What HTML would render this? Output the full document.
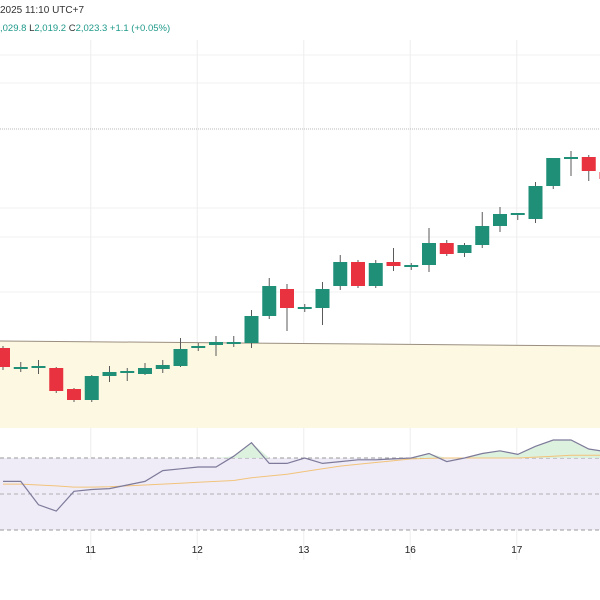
<!DOCTYPE html>
<html><head><meta charset="utf-8"><style>
html,body{margin:0;padding:0;background:#fff;width:600px;height:600px;overflow:hidden;font-family:"Liberation Sans",sans-serif}
svg{display:block}
</style></head><body>
<svg id="chart" width="600" height="600" viewBox="0 0 600 600" xmlns="http://www.w3.org/2000/svg">
<g id="grid"></g>
<path id="zone" d="M0 341 L600 346 L600 428 L0 428 Z" fill="#fdf8e1"/>
<line x1="0" y1="341" x2="600" y2="346" stroke="#9a8f80" stroke-width="1"/>
<line x1="0" y1="129" x2="600" y2="129" stroke="#b8b8b8" stroke-width="1" stroke-dasharray="1,1"/>
<rect x="0" y="458" width="600" height="72" fill="#efecf8"/>
<line x1="0" y1="458" x2="600" y2="458" stroke="#9a9a9a" stroke-dasharray="4,3"/>
<line x1="0" y1="494" x2="600" y2="494" stroke="#b0b0b0" stroke-dasharray="4,3"/>
<line x1="0" y1="530" x2="600" y2="530" stroke="#9a9a9a" stroke-dasharray="4,3"/>
<g id="candles"></g>
<g id="rsi"></g>
<g id="xaxis"></g>
<text x="0" y="13" font-size="10" fill="#333">2025 11:10 UTC+7</text>
<text x="0" y="31" font-size="9.5" fill="#1f9a8a">,029.8 <tspan fill="#333">L</tspan>2,019.2 <tspan fill="#333">C</tspan>2,023.3 +1.1 (+0.05%)</text>
</svg>
<script>
// price values (units mapped to y by priceY)
const opens  = [2652,2632,2633,2632,2611,2600,2624,2628,2626,2631,2634,2652,2655,2657,2657,2684,2711,2692,2692,2714,2738,2714,2738,2734,2735,2757,2747,2755,2774,2786,2781,2814,2842,2843,2828];
const closes = [2633,2633,2633,2609,2600,2624,2628,2628,2632,2635,2651,2654,2658,2657,2684,2714,2692,2692,2711,2738,2714,2737,2734,2734,2757,2746,2755,2774,2786,2786,2814,2842,2842,2829,2821];
const highs  = [2654,2638,2640,2633,2612,2625,2634,2632,2637,2640,2662,2657,2664,2664,2690,2722,2716,2696,2718,2745,2740,2740,2752,2737,2772,2760,2757,2788,2793,2787,2818,2842,2849,2845,2830];
const lows   = [2630,2628,2626,2607,2598,2598,2618,2619,2625,2627,2633,2649,2644,2653,2652,2681,2669,2688,2675,2710,2712,2712,2729,2730,2728,2744,2743,2752,2768,2780,2777,2811,2824,2819,2818];
const rsiVals = [57,57,44,40.5,51.5,52.5,53,55,57,63,64,65,65,71,78.5,67,67,70,67,68,69,69,69.5,70,72.5,68,70,72.5,74,72,76.5,80,80,75,73.5];
const rsiMA   = [55.5,55.5,55,54.5,53.8,53.8,54,54.5,55,55.5,56,56.5,57,57.5,59,60,61,62.5,64,65.5,66.5,67.5,68.5,69.5,69.8,70,70,70,70,70,70.5,71,71.5,71.5,71.5];
const tickLabels = ["11","12","13","16","17"];
const tickIndex  = [5,11,17,23,29];

const x0 = 0.5, step = 17.75;
const xAt = i => x0 + 2.5 + i*step;
const priceY = p => 3000 - p;
const rsiY = v => 458 + (70 - v)*1.8;
const NS = "http://www.w3.org/2000/svg";
function mk(tag, attrs, parent){const e=document.createElementNS(NS,tag);for(const k in attrs)e.setAttribute(k,attrs[k]);parent.appendChild(e);return e;}

const grid = document.getElementById('grid');
[55,83,208,237,292].forEach(y=>{
  const l = mk('line',{x1:0,x2:600,y1:y,y2:y,stroke:'#f1f1f1'},grid);
  
  
});
tickIndex.forEach(i=>{
  const l = mk('line',{x1:xAt(i)-1,x2:xAt(i)-1,y1:40,y2:560,stroke:'#eeeeee'},grid);
  
  
});

const cg = document.getElementById('candles');
opens.forEach((o,i)=>{
  const c = closes[i], up = c >= o, col = up ? '#1f8f78' : '#e8323f';
  const g = mk('g',{},cg);
  
  
  const x = xAt(i);
  mk('line',{x1:x,x2:x,y1:priceY(highs[i]),y2:priceY(lows[i]),stroke:'#5a5a5a','stroke-width':1},g);
  const top = priceY(Math.max(o,c)), h = Math.max(2, Math.abs(o-c));
  mk('rect',{x:x-7,y:top-(h===2&&o===c?1:0),width:14,height:h,fill:col},g);
});

const rg = document.getElementById('rsi');
let fillD = '';
rsiVals.forEach((v,i)=>{ if(i===0) return; });
// green area above 70
let area = 'M'+xAt(0)+' 458';
rsiVals.forEach((v,i)=>{ area += ' L'+xAt(i)+' '+Math.min(458,rsiY(v)); });
area += ' L'+xAt(rsiVals.length-1)+' 458 Z';
const a = mk('path',{d:area,fill:'#d9efdc',opacity:0.9},rg);


const ma = mk('polyline',{points:rsiMA.map((v,i)=>xAt(i)+','+rsiY(v)).join(' '),fill:'none',stroke:'#f2c37a','stroke-width':1},rg);


const rl = mk('polyline',{points:rsiVals.map((v,i)=>xAt(i)+','+rsiY(v)).join(' '),fill:'none',stroke:'#7e7a9a','stroke-width':1.2},rg);



const xa = document.getElementById('xaxis');
tickLabels.forEach((t,k)=>{
  const tx = mk('text',{x:xAt(tickIndex[k])-1,y:553,'font-size':10,'text-anchor':'middle',fill:'#222'},xa);
  tx.textContent = t;
  
  
});
</script>
</body></html>
